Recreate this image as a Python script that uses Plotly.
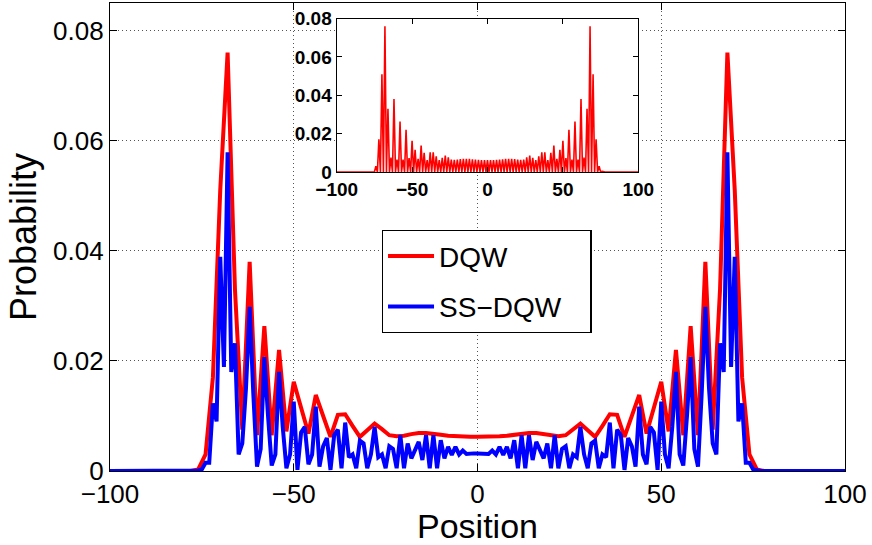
import plotly.graph_objects as go

# Lattice positions
position = list(range(-100, 101))

# DQW probability at every site (odd sites are zero), x = -100 .. 100
dqw = [
    0, 0, 0, 0, 0, 0, 0, 0, 0, 0, 0, 0, 0, 0, 0, 0, 0, 0, 0, 0, 0, 0, 0, 0,   # -100..-77
    0.0003, 0, 0.0030, 0, 0.0170, 0, 0.0510, 0, 0.0760, 0,                     # -76..-67
    0.0330, 0, 0.0075, 0, 0.0380, 0, 0.0065, 0, 0.0263, 0,                     # -66..-57
    0.0065, 0, 0.0220, 0, 0.0072, 0, 0.0162, 0, 0.0115, 0,                     # -56..-47
    0.0068, 0, 0.0138, 0, 0.0100, 0, 0.0062, 0, 0.0102, 0,                     # -46..-37
    0.0103, 0, 0.0082, 0, 0.0062, 0, 0.0074, 0, 0.0086, 0,                     # -36..-27
    0.0076, 0, 0.0065, 0, 0.0063, 0, 0.0064, 0, 0.0067, 0,                     # -26..-17
    0.0069, 0, 0.0069, 0, 0.0068, 0, 0.0066, 0, 0.0064, 0,                     # -16..-7
    0.0063, 0, 0.0062, 0, 0.0062, 0,                                           # -6..-1
    0.0062,                                                                    # 0
    0, 0.0062, 0, 0.0062, 0, 0.0063,                                           # 1..6
    0, 0.0064, 0, 0.0066, 0, 0.0068, 0, 0.0069, 0, 0.0069,                     # 7..16
    0, 0.0067, 0, 0.0064, 0, 0.0063, 0, 0.0065, 0, 0.0076,                     # 17..26
    0, 0.0086, 0, 0.0074, 0, 0.0062, 0, 0.0082, 0, 0.0103,                     # 27..36
    0, 0.0102, 0, 0.0062, 0, 0.0100, 0, 0.0138, 0, 0.0068,                     # 37..46
    0, 0.0115, 0, 0.0162, 0, 0.0072, 0, 0.0220, 0, 0.0065,                     # 47..56
    0, 0.0263, 0, 0.0065, 0, 0.0380, 0, 0.0075, 0, 0.0330,                     # 57..66
    0, 0.0760, 0, 0.0510, 0, 0.0170, 0, 0.0030, 0, 0.0003,                     # 67..76
    0, 0, 0, 0, 0, 0, 0, 0, 0, 0, 0, 0, 0, 0, 0, 0, 0, 0, 0, 0, 0, 0, 0, 0,   # 77..100
]

# SS-DQW probability at every site, x = -100 .. 100
ss_dqw = [
    0, 0, 0, 0, 0, 0, 0, 0, 0, 0, 0, 0, 0, 0, 0, 0, 0, 0, 0, 0, 0, 0, 0, 0,   # -100..-77
    0.0001, 0.0003, 0.0015, 0.0015, 0.0123, 0.0090, 0.0389, 0.0189, 0.0579, 0.0180,  # -76..-67
    0.0232, 0.0030, 0.0050, 0.0150, 0.0298, 0.0140, 0.0008, 0.0040, 0.0207, 0.0100,  # -66..-57
    0.0010, 0.0030, 0.0180, 0.0080, 0.0005, 0.0030, 0.0126, 0.0002, 0.0070, 0.0080,  # -56..-47
    0.0012, 0.0030, 0.0117, 0.0008, 0.0045, 0.0060, 0.0002, 0.0065, 0.0075, 0.0005,  # -46..-37
    0.0088, 0.0025, 0.0030, 0.0005, 0.0055, 0.0050, 0.0005, 0.0030, 0.0080, 0.0025,  # -36..-27
    0.0030, 0.0005, 0.0045, 0.0040, 0.0005, 0.0065, 0.0005, 0.0050, 0.0023, 0.0038,  # -26..-17
    0.0053, 0.0020, 0.0065, 0.0005, 0.0065, 0.0005, 0.0056, 0.0023, 0.0044, 0.0029,  # -16..-7
    0.0044, 0.0030, 0.0037, 0.0031, 0.0032, 0.0032,                                  # -6..-1
    0.0032,                                                                          # 0
    0.0032, 0.0032, 0.0031, 0.0037, 0.0030, 0.0044,                                  # 1..6
    0.0029, 0.0044, 0.0023, 0.0056, 0.0005, 0.0065, 0.0005, 0.0065, 0.0020, 0.0053,  # 7..16
    0.0038, 0.0023, 0.0050, 0.0005, 0.0065, 0.0005, 0.0040, 0.0045, 0.0005, 0.0030,  # 17..26
    0.0025, 0.0080, 0.0030, 0.0005, 0.0050, 0.0055, 0.0005, 0.0030, 0.0025, 0.0088,  # 27..36
    0.0005, 0.0075, 0.0065, 0.0002, 0.0060, 0.0045, 0.0008, 0.0117, 0.0030, 0.0012,  # 37..46
    0.0080, 0.0070, 0.0002, 0.0126, 0.0030, 0.0005, 0.0080, 0.0180, 0.0030, 0.0010,  # 47..56
    0.0100, 0.0207, 0.0040, 0.0008, 0.0140, 0.0298, 0.0150, 0.0050, 0.0030, 0.0232,  # 57..66
    0.0180, 0.0579, 0.0189, 0.0389, 0.0090, 0.0123, 0.0015, 0.0015, 0.0003, 0.0001,  # 67..76
    0, 0, 0, 0, 0, 0, 0, 0, 0, 0, 0, 0, 0, 0, 0, 0, 0, 0, 0, 0, 0, 0, 0, 0,   # 77..100
]

x_ticks = [-100, -50, 0, 50, 100]
y_ticks = [0, 0.02, 0.04, 0.06, 0.08]
y_tick_text = ["0", "0.02", "0.04", "0.06", "0.08"]
series_names = ["DQW", "SS\u2212DQW"]

RED = "#ff0000"
BLUE = "#0000ff"
FONT = "Liberation Sans, Arial, Helvetica, sans-serif"
PAD = "\u00a0\u00a0\u00a0"   # right padding inside the legend box

fig = go.Figure()

# main plot: DQW only on even sites (non-zero sites)
fig.add_trace(go.Scatter(x=position[::2], y=dqw[::2], mode="lines", name=series_names[0],
                         line=dict(color=RED, width=4), xaxis="x", yaxis="y",
                         legendgroup="a"))
fig.add_trace(go.Scatter(x=position, y=ss_dqw, mode="lines", name=series_names[1] + PAD,
                         line=dict(color=BLUE, width=4), xaxis="x", yaxis="y",
                         legendgroup="b"))
# inset: DQW at every site
fig.add_trace(go.Scatter(x=position, y=dqw, mode="lines", name="DQW (all sites)",
                         line=dict(color=RED, width=1.6), xaxis="x2", yaxis="y2",
                         showlegend=False))

axis_common = dict(showline=True, linecolor="black", linewidth=1.3, mirror="ticks",
                   ticks="inside", tickcolor="black", zeroline=False, automargin=False)

fig.update_layout(
    width=872, height=545,
    margin=dict(l=110, r=27, t=3, b=74),
    paper_bgcolor="white", plot_bgcolor="white",
    font=dict(family=FONT, color="black"),
    xaxis=dict(domain=[0, 1], range=[-100, 100], tickvals=x_ticks, ticklen=7,
               showgrid=True, gridcolor="#555555", griddash="1px,3px", gridwidth=1,
               tickfont=dict(size=26),
               title=dict(text="Position", font=dict(size=34), standoff=0),
               **axis_common),
    yaxis=dict(domain=[0, 1], range=[0, 0.085], tickvals=y_ticks, ticktext=y_tick_text,
               ticklen=7, showgrid=True, gridcolor="#555555", griddash="1px,3px", gridwidth=1,
               tickfont=dict(size=26),
               title=dict(text="Probability", font=dict(size=36), standoff=5),
               **axis_common),
    xaxis2=dict(domain=[0.3084, 0.7188], anchor="y2", range=[-100, 100], tickvals=x_ticks,
                ticklen=5, showgrid=False,
                tickfont=dict(size=19, weight="bold"), **axis_common),
    yaxis2=dict(domain=[0.639, 0.9667], anchor="x2", range=[0, 0.08], tickvals=y_ticks,
                ticktext=y_tick_text, ticklen=5, showgrid=False,
                tickfont=dict(size=19, weight="bold"), **axis_common),
    legend=dict(x=0.3697, y=0.515, xanchor="left", yanchor="top",
                bgcolor="white", bordercolor="black", borderwidth=1.3,
                font=dict(size=28), tracegroupgap=11, traceorder="grouped",
                itemwidth=46),
    showlegend=True,
)

fig.write_html("out.html", config={"displayModeBar": False},
               post_script="document.body.style.margin='0px';")
